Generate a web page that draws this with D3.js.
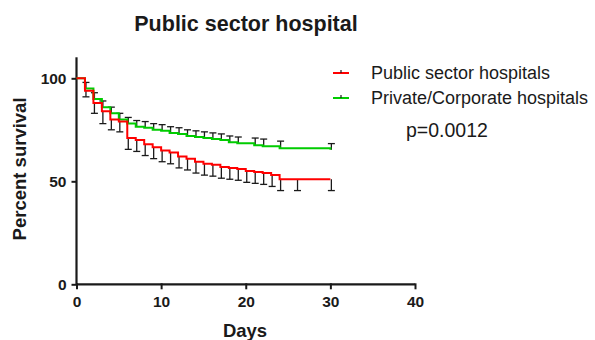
<!DOCTYPE html>
<html><head><meta charset="utf-8">
<script src="https://cdn.jsdelivr.net/npm/d3@7"></script>
<style>body{margin:0;background:#fff}svg{display:block}</style>
</head><body>
<script>
const title = "Public sector hospital";
const xLabel = "Days";
const yLabel = "Percent survival";
const xTicks = [0, 10, 20, 30, 40];
const yTicks = [0, 50, 100];
const seriesNames = ["Public sector hospitals", "Private/Corporate hospitals"];
const seriesColors = ["#ff0000", "#00cc00"];
const pValueText = "p=0.0012";

// Public sector (red)
const publicDays   = [0, 1, 2, 3, 4, 5, 6, 7, 8, 9, 10, 11, 12, 13, 14, 15, 16, 17, 18, 19, 20, 21, 22, 23, 24, 26, 30];
const publicSurv   = [100, 94, 88, 84, 80, 79, 71, 70, 68, 66.5, 65, 64, 62, 61, 59.5, 58.5, 58, 57, 56.5, 56, 55, 54.5, 54, 53, 51, 51, 51];
const publicErrLow = [0, 3, 5, 6, 5, 5, 5.5, 5.5, 5.5, 5.5, 5.5, 5.5, 5.5, 5.5, 5.5, 5.5, 5.5, 5.5, 5.5, 5.5, 5.5, 5.5, 5.5, 5.5, 5.5, 5.5, 5.5];

// Private/Corporate (green)
const privateDays   = [0, 1, 2, 3, 4, 5, 6, 7, 8, 9, 10, 11, 12, 13, 14, 15, 16, 17, 18, 19, 21, 22, 24, 30];
const privateSurv   = [100, 95, 90, 86, 83, 80, 78, 76.5, 76, 75, 74.5, 73.5, 73, 72, 71.5, 71, 70.5, 70, 69, 68.5, 67.5, 67, 66, 65.3];
const privateErrUp  = [0, 3, 3, 3, 3, 3, 3, 3, 3, 3, 3, 3, 3, 3, 3, 3, 3, 3, 3, 3, 3.5, 3.5, 3.5, 3];

const W = 595, H = 340;
const svg = d3.select("body").append("svg").attr("width", W).attr("height", H);
const x = d3.scaleLinear().domain([0, 40]).range([76.5, 415]);
const y = d3.scaleLinear().domain([0, 100]).range([284.3, 78.3]);
const yTop = y(110.2);
const fontB = "Arial, 'Liberation Sans', sans-serif";
const ink = "#1a1a1a";

// title
svg.append("text").attr("x", 246).attr("y", 31).attr("text-anchor", "middle")
  .attr("font-family", fontB).attr("font-weight", "bold").attr("font-size", 21.5).attr("fill", ink).text(title);

// axes
const gx = svg.append("g").attr("transform", `translate(0,${y(0)})`)
  .call(d3.axisBottom(x).tickValues(xTicks).tickSize(5).tickPadding(4));
const gy = svg.append("g").attr("transform", `translate(${x(0)},0)`)
  .call(d3.axisLeft(y).tickValues(yTicks).tickSize(5).tickPadding(5));
gy.select(".domain").attr("d", `M0,${y(0)}V${yTop}`);
gx.select(".domain").attr("d", `M${x(0)},0H${x(40)}`);
[gx, gy].forEach(g => {
  g.selectAll(".domain").attr("stroke", ink).attr("stroke-width", 2.2);
  g.selectAll(".tick line").attr("stroke", ink).attr("stroke-width", 2);
  g.selectAll(".tick text").attr("font-family", fontB).attr("font-weight", "bold")
    .attr("font-size", 15.5).attr("fill", ink);
});
gx.selectAll(".tick line").attr("y1", -1);
gx.selectAll(".tick text").attr("dy", "0.71em").attr("y", 12);

// axis labels
svg.append("text").attr("x", 245).attr("y", 337).attr("text-anchor", "middle")
  .attr("font-family", fontB).attr("font-weight", "bold").attr("font-size", 18.5).attr("fill", ink).text(xLabel);
svg.append("text").attr("transform", `translate(26,${y(56)}) rotate(-90)`).attr("text-anchor", "middle")
  .attr("font-family", fontB).attr("font-weight", "bold").attr("font-size", 18.5).attr("fill", ink).text(yLabel);

function drawSeries(days, surv, err, dir, color) {
  const pts = days.map((d, i) => ({ d, s: surv[i], e: err[i] }));
  const cap = 3.5;
  const eb = svg.append("g").attr("stroke", ink).attr("stroke-width", 1.3);
  pts.forEach(p => {
    if (!p.e) return;
    const y0 = y(p.s), y1 = y(p.s + dir * p.e);
    const xx = x(p.d) + 1;
    eb.append("line").attr("x1", xx).attr("x2", xx).attr("y1", y0).attr("y2", y1);
    eb.append("line").attr("x1", xx - cap).attr("x2", xx + cap).attr("y1", y1).attr("y2", y1);
  });
  const line = d3.line().x(p => x(p.d)).y(p => y(p.s)).curve(d3.curveStepAfter);
  svg.append("path").datum(pts).attr("d", line).attr("fill", "none")
    .attr("stroke", color).attr("stroke-width", 2);
}
drawSeries(privateDays, privateSurv, privateErrUp, 1, seriesColors[1]);
drawSeries(publicDays, publicSurv, publicErrLow, -1, seriesColors[0]);

// legend
const leg = svg.append("g");
seriesNames.forEach((n, i) => {
  const yy = 73 + i * 25;
  leg.append("line").attr("x1", 333).attr("x2", 349).attr("y1", yy).attr("y2", yy)
    .attr("stroke", seriesColors[i]).attr("stroke-width", 2);
  leg.append("line").attr("x1", 341).attr("x2", 341).attr("y1", yy - 3).attr("y2", yy)
    .attr("stroke", ink).attr("stroke-width", 1.2);
  leg.append("text").attr("x", 371).attr("y", yy + 6).attr("font-family", fontB)
    .attr("font-size", 18).attr("fill", ink).text(n);
});
svg.append("text").attr("x", 406).attr("y", 137).attr("font-family", fontB)
  .attr("font-size", 19.5).attr("fill", ink).text(pValueText);
</script>
</body></html>
